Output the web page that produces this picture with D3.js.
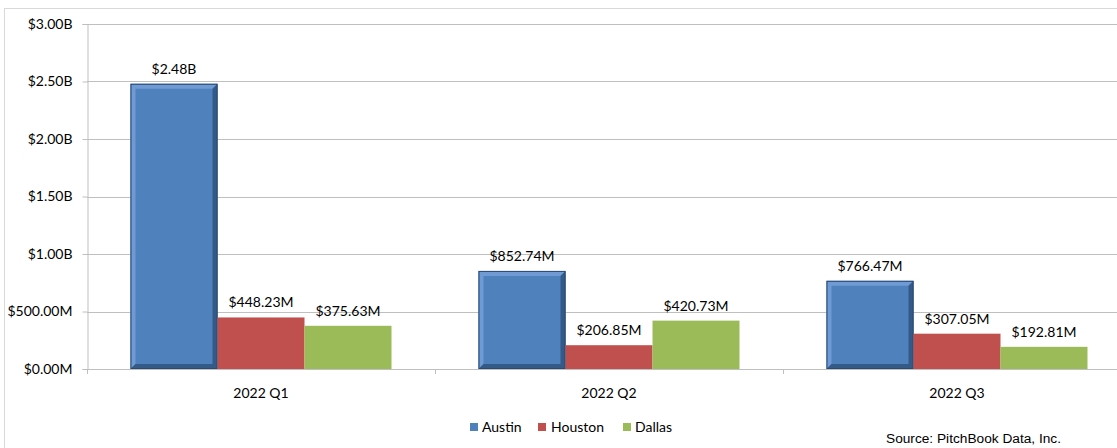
<!DOCTYPE html>
<html>
<head>
<meta charset="utf-8">
<script src="https://cdn.jsdelivr.net/npm/d3@7"></script>
<style>
  body { margin: 0; background: #fff; }
  text { fill: #000; }
</style>
</head>
<body>
<div id="chart-area"></div>
<script>
// data
var quarters = ["2022 Q1", "2022 Q2", "2022 Q3"];
var cities = ["Austin", "Houston", "Dallas"];
var austin = [2480, 852.74, 766.47];
var houston = [448.23, 206.85, 307.05];
var dallas = [375.63, 420.73, 192.81];
var yTicks = [0, 500, 1000, 1500, 2000, 2500, 3000];

var seriesValues = [austin, houston, dallas];
var colors = ["#4F81BD", "#C0504D", "#9BBB59"];
var labelFont = "Lato, 'Open Sans', sans-serif";

var W = 1117, H = 448;
var svg = d3.select("#chart-area")
  .append("svg")
  .attr("width", W)
  .attr("height", H)
  .style("font-family", labelFont);

// outer frame
svg.append("rect")
  .attr("x", 4.5).attr("y", 8.5)
  .attr("width", W + 10).attr("height", H + 10)
  .attr("fill", "none")
  .attr("stroke", "#D9D9D9");

var margin = { left: 87, top: 24, right: -14, bottom: 79 };
var width = W - margin.left - margin.right;
var height = H - margin.top - margin.bottom;

var g = svg.append("g")
  .attr("transform", "translate(" + margin.left + "," + margin.top + ")");

var x0 = d3.scaleBand()
  .domain(quarters)
  .range([0, width])
  .paddingInner(0)
  .paddingOuter(0);

var x1 = d3.scaleBand()
  .domain(cities)
  .range([x0.bandwidth() / 8, x0.bandwidth() * 7 / 8]);

var y = d3.scaleLinear()
  .domain([0, 3000])
  .range([height, 0]);

var fmt = function (v) {
  if (v >= 1000) return "$" + (v / 1000).toFixed(2) + "B";
  return "$" + v.toFixed(2) + "M";
};

// gridlines
g.selectAll(".grid")
  .data(yTicks.slice(1))
  .enter().append("line")
  .attr("x1", 0).attr("x2", width)
  .attr("y1", d => Math.round(y(d)) + 0.5)
  .attr("y2", d => Math.round(y(d)) + 0.5)
  .attr("stroke", "#BFBFBF");

// y axis
var yAxisCall = d3.axisLeft(y)
  .tickValues(yTicks)
  .tickSize(5)
  .tickPadding(10)
  .tickFormat(fmt);
var yAxis = g.append("g")
  .attr("class", "y axis")
  .attr("transform", "translate(0.5,0)")
  .call(yAxisCall);
yAxis.select(".domain").attr("stroke", "#BFBFBF");
yAxis.selectAll(".tick line").attr("stroke", "#BFBFBF");
yAxis.selectAll("text")
  .attr("font-size", "14px")
  .attr("font-family", labelFont)
  .attr("fill", "#000");

// x axis
g.append("line")
  .attr("x1", 0).attr("x2", width)
  .attr("y1", height + 0.5).attr("y2", height + 0.5)
  .attr("stroke", "#BFBFBF");
g.selectAll(".xtick")
  .data(quarters)
  .enter().append("line")
  .attr("x1", d => Math.round(x0(d)) + 0.5)
  .attr("x2", d => Math.round(x0(d)) + 0.5)
  .attr("y1", height).attr("y2", height + 5)
  .attr("stroke", "#BFBFBF");
g.selectAll(".xlabel")
  .data(quarters)
  .enter().append("text")
  .attr("x", d => x0(d) + x0.bandwidth() / 2)
  .attr("y", height + 29)
  .attr("text-anchor", "middle")
  .attr("font-size", "14px")
  .text(d => d);

// bars
var bars = [];
quarters.forEach((q, qi) => {
  cities.forEach((c, ci) => {
    bars.push({ q: q, c: c, ci: ci, v: seriesValues[ci][qi] });
  });
});

var groups = g.selectAll(".bar")
  .data(bars)
  .enter().append("g")
  .attr("class", "bar");

groups.append("rect")
  .attr("x", d => x0(d.q) + x1(d.c))
  .attr("y", d => y(d.v))
  .attr("width", x1.bandwidth())
  .attr("height", d => height - y(d.v))
  .attr("fill", d => colors[d.ci]);

// bevel on the Austin bars
var bev = 5;
var austinBars = groups.filter(d => d.ci === 0);
austinBars.append("path")
  .attr("fill", "#6F9AD3")
  .attr("d", d => {
    var x = x0(d.q) + x1(d.c), yy = y(d.v), w = x1.bandwidth(), h = height - y(d.v);
    return "M" + x + "," + (yy + h) + "L" + x + "," + yy + "L" + (x + w) + "," + yy +
      "L" + (x + w - bev) + "," + (yy + bev) + "L" + (x + bev) + "," + (yy + bev) +
      "L" + (x + bev) + "," + (yy + h - bev) + "Z";
  });
austinBars.append("path")
  .attr("fill", "#345A88")
  .attr("d", d => {
    var x = x0(d.q) + x1(d.c), yy = y(d.v), w = x1.bandwidth(), h = height - y(d.v);
    return "M" + (x + w) + "," + yy + "L" + (x + w) + "," + (yy + h) + "L" + x + "," + (yy + h) +
      "L" + (x + bev) + "," + (yy + h - bev) + "L" + (x + w - bev) + "," + (yy + h - bev) +
      "L" + (x + w - bev) + "," + (yy + bev) + "Z";
  });
austinBars.append("rect")
  .attr("x", d => x0(d.q) + x1(d.c) + 0.5)
  .attr("y", d => y(d.v) + 0.5)
  .attr("width", x1.bandwidth() - 1)
  .attr("height", d => height - y(d.v) - 1)
  .attr("fill", "none")
  .attr("stroke", "#2A4A72")
  .attr("stroke-width", 1);

// value labels
groups.append("text")
  .attr("x", d => x0(d.q) + x1(d.c) + x1.bandwidth() / 2)
  .attr("y", d => y(d.v) - 10)
  .attr("text-anchor", "middle")
  .attr("font-size", "14px")
  .text(d => fmt(d.v));

// legend
var legendX = [470, 538, 623];
var legend = svg.selectAll(".legend")
  .data(cities)
  .enter().append("g")
  .attr("class", "legend")
  .attr("transform", (d, i) => "translate(" + legendX[i] + ",423)");
legend.append("rect")
  .attr("width", 8).attr("height", 8)
  .attr("fill", (d, i) => colors[i]);
legend.append("text")
  .attr("x", (d, i) => i === 1 ? 13 : 12)
  .attr("y", 9)
  .attr("font-size", "14px")
  .text(d => d);

// source
svg.append("text")
  .attr("x", 886)
  .attr("y", 443)
  .style("font-family", "'Liberation Sans', Arial, sans-serif")
  .attr("font-size", "13.7px")
  .text("Source: PitchBook Data, Inc.");
</script>
</body>
</html>
